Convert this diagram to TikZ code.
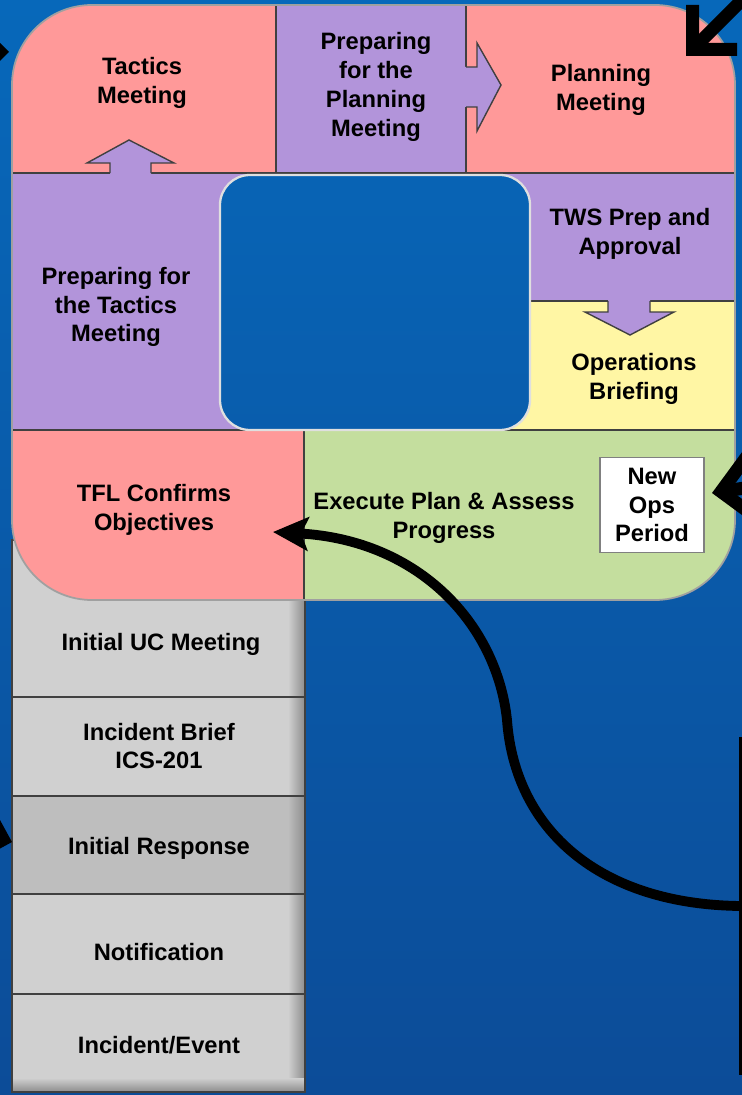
\documentclass[tikz,border=0pt]{standalone}
\usepackage{fontspec}
\setmainfont{Liberation Sans}
\usetikzlibrary{arrows.meta}

\definecolor{bgtop}{RGB}{7,104,186}
\definecolor{bgbot}{RGB}{12,76,152}
\definecolor{tacred}{RGB}{255,153,153}
\definecolor{preplilac}{RGB}{178,148,218}
\definecolor{opsyellow}{RGB}{255,246,164}
\definecolor{execgreen}{RGB}{196,222,158}
\definecolor{stepgrey}{RGB}{208,208,208}
\definecolor{stepgreymid}{RGB}{190,190,190}
\definecolor{stepgreydk}{RGB}{140,140,140}
\definecolor{celledge}{RGB}{64,64,64}
\definecolor{rimgrey}{RGB}{160,160,160}

\tikzset{
  lbl/.style={font=\bfseries\fontsize{13.5}{16.4}\selectfont, align=center, inner sep=0pt},
  cellline/.style={draw=celledge, line width=0.8pt},
  blockarrow/.style={fill=preplilac, draw=celledge, line width=0.8pt, line join=miter},
  pointer/.style={line width=7.4pt, -{Straight Barb[sharp, length=18pt, width=36pt]}},
  sweep/.style={line width=5.6pt, -{Stealth[length=20pt, width=19pt, inset=4pt]}}
}

\begin{document}
\begin{tikzpicture}[x=0.02cm, y=-0.02cm]
\useasboundingbox (0,0) rectangle (742,1095);
\clip (0,0) rectangle (742,1095);
\shade[top color=bgtop, bottom color=bgbot] (0,0) rectangle (742,1095);

% stem of the P
\foreach \ya/\yb/\c in {540/697/stepgrey, 697/796/stepgrey, 796/894/stepgreymid, 894/994/stepgrey, 994/1092/stepgrey} {
  \fill[\c] (12,\ya) rectangle (305,\yb);
  \shade[left color=\c, right color=stepgreydk] (288,\ya) rectangle (305,\yb);
}
\shade[top color=stepgrey, bottom color=stepgreydk] (12,1078) rectangle (305,1092);
\foreach \y in {697,796,894,994}
  \draw[cellline] (12,\y) -- (305,\y);
\draw[cellline] (12,540) rectangle (305,1092);

% loop of the P
\begin{scope}
\clip[rounded corners=1.6cm] (12,5) rectangle (735,600);
\fill[tacred] (12,5) rectangle (735,173);
\fill[preplilac] (276,5) rectangle (466,173);
\fill[preplilac] (12,173) rectangle (735,301);
\fill[preplilac] (12,301) rectangle (376,430);
\fill[opsyellow] (376,301) rectangle (735,430);
\fill[tacred] (12,430) rectangle (304,600);
\fill[execgreen] (304,430) rectangle (735,600);
\draw[cellline] (276,5) -- (276,173) (466,5) -- (466,173) (12,173) -- (735,173)
  (376,301) -- (735,301) (12,430) -- (735,430) (304,430) -- (304,600);
\end{scope}
\draw[rimgrey, line width=1pt, rounded corners=1.6cm] (12,5) rectangle (735,600);
% the hole shows the backdrop
\shade[top color=bgbot!16!bgtop, bottom color=bgbot!39!bgtop, draw=white!75!gray,
  line width=1.3pt, rounded corners=0.6cm] (220,175) rectangle (530,430);

% block arrows
\fill[preplilac] (110,176) -- (110,163) -- (87,163) -- (129,140) -- (174,163) -- (151,163) -- (151,176) -- cycle;
\draw[blockarrow, fill=none] (110,173) -- (110,163) -- (87,163) -- (129,140) -- (174,163) -- (151,163) -- (151,173);
\fill[preplilac] (463,67) -- (477,67) -- (477,43) -- (501,85) -- (477,131) -- (477,107) -- (463,107) -- cycle;
\draw[blockarrow, fill=none] (466,67) -- (477,67) -- (477,43) -- (501,85) -- (477,131) -- (477,107) -- (466,107);
\fill[preplilac] (608,298) -- (608,312) -- (585,312) -- (630,335) -- (674,312) -- (650,312) -- (650,298) -- cycle;
\draw[blockarrow, fill=none] (608,301) -- (608,312) -- (585,312) -- (630,335) -- (674,312) -- (650,312) -- (650,301);

% labels
\node[lbl] (tacmtg) at (142,83) {Tactics\\Meeting};
\node[lbl] (prepplan) at (376,87) {Preparing\\for the\\Planning\\Meeting};
\node[lbl] (planmtg) at (601,90) {Planning\\Meeting};
\node[lbl] (preptac) at (116,307) {Preparing for\\the Tactics\\Meeting};
\node[lbl] (tws) at (630,234) {TWS Prep and\\Approval};
\node[lbl] (opsbrief) at (634,379) {Operations\\Briefing};
\node[lbl] (tfl) at (154,510) {TFL Confirms\\Objectives};
\node[lbl] (execute) at (444,518) {Execute Plan \& Assess\\Progress};
\node[lbl, fill=white, draw=gray, line width=1pt, minimum width=2.08cm, minimum height=1.9cm] (newops) at (652,505) {New\\Ops\\Period};
\node[lbl] (ucmtg) at (161,644) {Initial UC Meeting};
\node[lbl] (brief) at (159,746) {Incident Brief\\ICS-201};
\node[lbl] (initresp) at (159,848) {Initial Response};
\node[lbl] (notif) at (159,952) {Notification};
\node[lbl] (event) at (159,1045) {Incident/Event};

% black pointers
\coordinate (planptr) at (686,56);
\coordinate (tacptr) at (9,52);
\coordinate (respptr) at (12,842);
\coordinate (opsptr) at (712,493);
\draw[pointer] (800,-58) -- (planptr);
\draw[pointer] (-80,52) -- (tacptr);
\draw[pointer] (-80,815) -- (respptr);
\draw[pointer] (810,478) -- (opsptr);

% return sweep
\coordinate (brtop) at (740,737);
\coordinate (brbot) at (740,1075);
\coordinate (brmid) at (742,906);
\coordinate (tfltip) at (273,532);
\draw[line width=1.7pt] (brtop) -- (brbot);
\draw[sweep] (brmid) .. controls (600,905) and (515,830) .. (507,720)
  .. controls (497,625) and (420,540) .. (tfltip);
\end{tikzpicture}
\end{document}
